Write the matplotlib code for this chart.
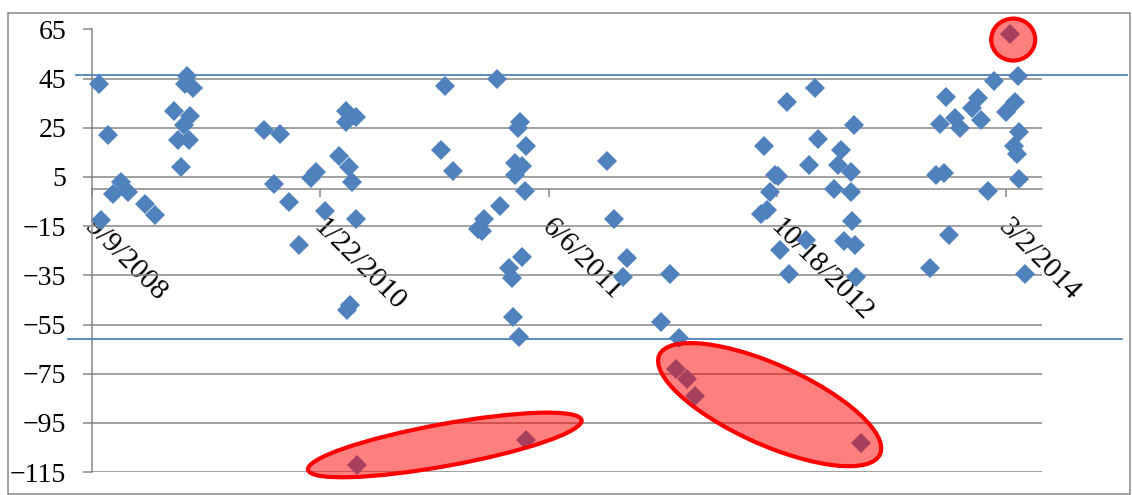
import datetime as dt

import matplotlib
matplotlib.use("Agg")
import matplotlib.pyplot as plt
import matplotlib.dates as mdates
import matplotlib.patches as mpatches
import matplotlib.transforms as mtransforms
from matplotlib.lines import Line2D
from matplotlib.ticker import FixedLocator, FuncFormatter

plt.rcParams['font.family'] = ['Liberation Serif', 'DejaVu Serif']

# scatter points
dates = [
    # late 2008 / spring 2009
    '2008-09-24', '2008-10-13', '2008-11-11', '2008-10-26', '2008-11-26',
    '2009-01-03', '2009-01-25', '2008-09-29', '2009-04-04', '2009-03-31',
    '2009-04-17', '2009-03-07', '2009-04-11', '2009-03-30', '2009-03-16',
    '2009-04-10', '2009-03-23',
    # autumn 2009 / spring 2010
    '2009-09-20', '2009-10-25', '2010-03-19', '2010-04-10', '2010-03-18',
    '2010-03-04', '2010-03-25', '2010-01-13', '2010-01-01', '2010-03-31',
    '2009-10-12', '2009-11-15', '2010-02-01', '2010-04-10', '2009-12-07',
    '2010-03-21', '2010-03-27', '2010-04-11',
    # autumn 2010 / spring 2011
    '2010-10-21', '2011-02-13', '2011-04-04', '2011-03-31', '2011-04-17',
    '2010-10-12', '2010-11-07', '2011-03-24', '2011-04-09', '2011-03-23',
    '2011-04-14', '2011-02-19', '2011-01-15', '2011-01-02', '2011-01-10',
    '2011-04-08', '2011-03-11', '2011-03-18', '2011-03-19', '2011-04-01',
    '2011-04-17',
    # autumn 2011 / spring 2012
    '2011-10-11', '2011-10-26', '2011-11-23', '2011-11-16', '2012-02-27',
    '2012-02-06', '2012-03-17', '2012-03-10', '2012-04-03', '2012-04-20',
    # autumn 2012 / spring 2013
    '2013-01-08', '2012-11-07', '2013-04-03', '2013-01-15', '2012-09-18',
    '2013-03-06', '2012-12-26', '2013-02-27', '2013-03-29', '2012-10-12',
    '2012-10-20', '2013-02-19', '2013-03-28', '2012-10-01', '2012-09-12',
    '2012-09-26', '2013-03-30', '2012-10-23', '2012-12-20', '2013-03-13',
    '2013-04-05', '2012-11-13', '2013-04-07', '2013-04-19',
    # autumn 2013 / spring 2014
    '2014-03-12', '2014-02-04', '2014-03-29', '2013-10-23', '2014-01-01',
    '2013-12-18', '2014-03-21', '2014-03-03', '2013-11-10', '2014-01-07',
    '2013-10-08', '2013-11-21', '2014-03-30', '2014-03-20', '2014-03-27',
    '2013-10-01', '2013-10-17', '2014-03-31', '2014-01-22', '2013-10-29',
    '2013-09-16', '2014-04-12',
]
values = [
    43, 22, 3, -2, -1,
    -6, -10.5, -12.5, 46, 43,
    41, 32, 30, 26, 20,
    20, 9,
    24, 22.5, 32, 29.5, 27.5,
    13.5, 9, 7, 4.5, 3,
    2, -5, -9, -12, -22.5,
    -49, -47, -112,
    42, 45, 27.5, 25, 17.5,
    16, 7.5, 10.5, 9.5, 6,
    -0.5, -7, -12, -16, -17,
    -27.5, -32, -36, -52, -60,
    -102,
    11.5, -12, -28, -35.5, -34.5,
    -54, -60.5, -73, -77, -84,
    41, 35.5, 26, 20.5, 17.5,
    16, 10, 10, 7, 6,
    5.5, 0, -1, -1, -10,
    -8.5, -13, -24.5, -20.5, -21,
    -22.5, -34.5, -35.5, -103,
    63, 44, 46, 37.5, 37,
    33, 35.5, 31.5, 29, 28,
    26.5, 25, 23.5, 17.5, 14.5,
    6, 6.5, 4, -0.5, -18.5,
    -32, -34.5,
]

# threshold lines drawn across the chart
upper_limit = 46.5
lower_limit = -60.8

# red highlight shapes: centre (date, value), size in pixels, tilt in degrees
highlight_dates = ['2010-10-21', '2012-10-01', '2014-03-18']
highlight_values = [-104, -87.6, 60.9]
highlight_sizes = [(278, 42), (242, 80), (44, 42)]
highlight_angles = [10.3, -24.2, 0]

x_start = dt.date(2008, 9, 9)
x_step_days = 500
y_ticks = list(range(-115, 66, 20))

BLUE = '#4F81BD'
GRAY = '#868686'
W, H = 1132, 495

x = mdates.datestr2num(dates)

fig = plt.figure(figsize=(W / 100, H / 100), dpi=100)
ax = fig.add_axes([92 / W, 23 / H, 950 / W, 442.5 / H])

ax.plot(x, values, linestyle='none', marker='D', markersize=10.5,
        markerfacecolor=BLUE, markeredgewidth=0, zorder=3, clip_on=False)

start = mdates.date2num(x_start)
ax.set_xlim(start, start + 2079)
ax.set_ylim(-115, 65)

ax.xaxis.set_major_locator(FixedLocator([start + x_step_days * k for k in range(5)]))
ax.xaxis.set_major_formatter(FuncFormatter(
    lambda v, pos: (lambda d: f'{d.month}/{d.day}/{d.year}')(mdates.num2date(v))))
ax.yaxis.set_major_locator(FixedLocator(y_ticks))

ax.grid(axis='y', color=GRAY, linewidth=1.1)
ax.set_axisbelow(True)

for side in ['top', 'right']:
    ax.spines[side].set_visible(False)
ax.spines['left'].set_color(GRAY)
ax.spines['left'].set_linewidth(1.1)
ax.spines['bottom'].set_position(('data', 0))
ax.spines['bottom'].set_color(GRAY)
ax.spines['bottom'].set_linewidth(1.1)

ax.tick_params(axis='y', direction='out', length=6.5, width=1.1, color=GRAY,
               labelsize=20, pad=12)
ax.tick_params(axis='x', direction='out', length=6, width=1.1, color=GRAY,
               labelsize=21, pad=12)

# rotated date labels, nudged a little to the right like Excel does
nudge = mtransforms.ScaledTranslation(6 / 100, 0, fig.dpi_scale_trans)
for tick in ax.xaxis.get_major_ticks():
    lab = tick.label1
    lab.set_rotation(-45)
    lab.set_rotation_mode('anchor')
    lab.set_ha('left')
    lab.set_va('top')
    lab.set_transform(lab.get_transform() + nudge)

# blue threshold lines, running past the plot area
line_tr = mtransforms.blended_transform_factory(fig.transFigure, ax.transData)
fig.lines.append(Line2D([76 / W, 1127 / W], [upper_limit, upper_limit],
                        transform=line_tr, color=BLUE, linewidth=1.3, zorder=4))
fig.lines.append(Line2D([68 / W, 1122 / W], [lower_limit, lower_limit],
                        transform=line_tr, color=BLUE, linewidth=1.3, zorder=4))

# red highlight ellipses on top of the points
for d, v, (w, h), ang in zip(highlight_dates, highlight_values,
                             highlight_sizes, highlight_angles):
    tr = fig.dpi_scale_trans + mtransforms.ScaledTranslation(
        mdates.datestr2num(d), v, ax.transData)
    ax.add_patch(mpatches.Ellipse((0, 0), w / 100, h / 100, angle=ang,
                                  transform=tr, facecolor=(1, 0, 0, 0.5),
                                  edgecolor='#FF0000', linewidth=3,
                                  zorder=5, clip_on=False))

# chart border
fig.patches.append(mpatches.Rectangle((8 / W, 1 / H), 1122 / W, 481 / H,
                                      transform=fig.transFigure, fill=False,
                                      edgecolor=GRAY, linewidth=1.1))

fig.savefig('out.png', dpi=100)
